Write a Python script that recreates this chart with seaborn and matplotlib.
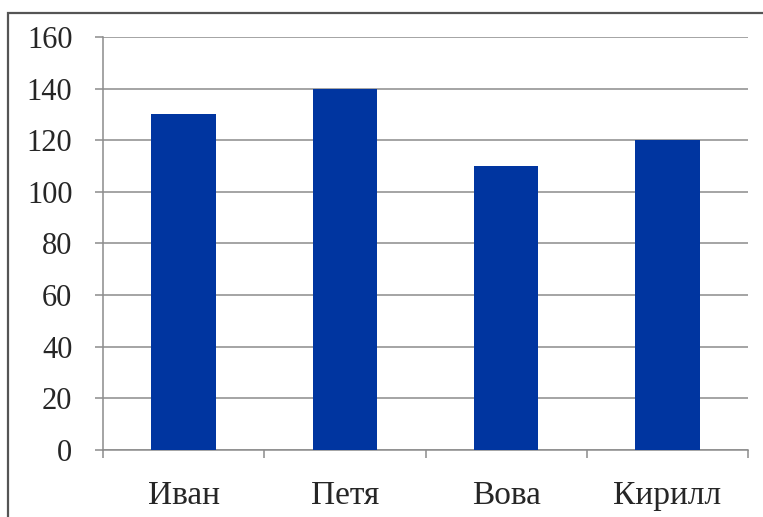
import matplotlib
matplotlib.use("Agg")
import matplotlib.pyplot as plt
import seaborn as sns
import pandas as pd
from matplotlib.patches import Rectangle

# ---------- DATA ----------
names = ["Иван", "Петя", "Вова", "Кирилл"]
values = [130, 140, 110, 120]
y_ticks = [0, 20, 40, 60, 80, 100, 120, 140, 160]

bar_color = "#0035A0"
grid_color = "#8C8C8C"

# ---------- PLOT ----------
sns.set_style("white")
plt.rcParams["font.family"] = ["Liberation Serif", "DejaVu Serif"]

df = pd.DataFrame({"name": names, "value": values})

fig = plt.figure(figsize=(7.63, 5.17), dpi=100)
ax = fig.add_axes([103 / 763, 1 - 450 / 517, (748 - 103) / 763, (450 - 37) / 517])

sns.barplot(data=df, x="name", y="value", color=bar_color, width=0.4,
            saturation=1, linewidth=0, ax=ax, zorder=3)

ax.set_xlim(-0.5, 3.5)
ax.set_ylim(0, 160)
ax.set_yticks(y_ticks)
ax.set_yticklabels([str(t) for t in y_ticks], fontsize=22)
ax.yaxis.grid(True, color=grid_color, linewidth=1.1, zorder=0)
ax.xaxis.grid(False)

# category boundaries as major ticks, names as minor ticks
ax.set_xticks([-0.5, 0.5, 1.5, 2.5, 3.5])
ax.set_xticklabels([])
ax.set_xticks(range(len(names)), minor=True)
ax.set_xticklabels(names, minor=True, fontsize=24)
ax.tick_params(axis="x", which="major", length=6, width=1.1, color=grid_color,
               direction="out", bottom=True)
ax.tick_params(axis="x", which="minor", length=0, pad=22)
ax.tick_params(axis="y", length=6, width=1.1, color=grid_color,
               direction="out", left=True, pad=16)

ax.set_xlabel("")
ax.set_ylabel("")
for side in ["top", "right"]:
    ax.spines[side].set_visible(False)
for side in ["left", "bottom"]:
    ax.spines[side].set_color(grid_color)
    ax.spines[side].set_linewidth(1.1)

# chart area border (cropped at right and bottom)
fig.patches.append(Rectangle((8 / 763, -0.2), 1.2, 0.2 + 1 - 13 / 517,
                             transform=fig.transFigure, fill=False,
                             edgecolor="#555555", linewidth=1.6))

fig.savefig("out.png", dpi=100)
